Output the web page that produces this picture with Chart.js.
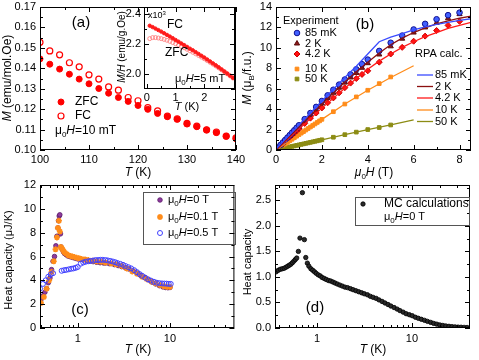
<!DOCTYPE html>
<html>
<head>
<meta charset="utf-8">
<script src="https://cdn.jsdelivr.net/npm/chart.js@4.4.0/dist/chart.umd.min.js"></script>
<style>
html, body { margin: 0; padding: 0; background: #fff; }
#wrap { position: relative; width: 479px; height: 360px; overflow: hidden; background: #fff; }
canvas { position: absolute; }
</style>
</head>
<body>
<div id="wrap">
  <canvas id="cA" width="250" height="180" style="left:0;top:0"></canvas>
  <canvas id="cIn" width="140" height="115" style="left:100px;top:0"></canvas>
  <canvas id="cB" width="239" height="180" style="left:240px;top:0"></canvas>
  <canvas id="cC" width="240" height="185" style="left:0;top:175px"></canvas>
  <canvas id="cD" width="239" height="185" style="left:240px;top:175px"></canvas>
</div>
<script>
// (a) M vs T at 10 mT
const aT = [100,102,104,106,108,110,112,114,116,118,120,122,124,126,128,130,132,134,136,138,140];
const aZFC = [0.1446,0.1420,0.1396,0.1371,0.1347,0.1324,0.1301,0.1278,0.1257,0.1238,0.1218,0.1199,0.1179,0.1163,0.1150,0.1127,0.1114,0.1098,0.1085,0.1067,0.1055];
const aFC = [0.1527,0.1485,0.1466,0.1427,0.1407,0.1368,0.1347,0.1309,0.1293,0.1257,0.1241,0.1207,0.1192,0.1166,0.1153,0.1130,0.1117,0.1099,0.1088,0.1068,0.1059];
const aTicksX = [100,110,120,130,140];
const aTicksY = [0.10,0.11,0.12,0.13,0.14,0.15,0.16,0.17];

// (a) inset, M/H at 5 mT (x10^3)
const inT = [0.1,0.2,0.3,0.4,0.5,0.6,0.7,0.8,0.9,1.0,1.1,1.2,1.3,1.4,1.5,1.6,1.7,1.8,1.9,2.0,2.1,2.2,2.3,2.4,2.5,2.6,2.7,2.8,2.9,3.0];
const inFC = [2.322,2.313,2.303,2.293,2.283,2.272,2.261,2.250,2.239,2.227,2.216,2.204,2.193,2.181,2.169,2.158,2.146,2.134,2.122,2.110,2.097,2.084,2.071,2.058,2.045,2.031,2.017,2.003,1.989,1.975];
const inZFC = [2.236,2.243,2.243,2.240,2.236,2.231,2.225,2.218,2.210,2.202,2.193,2.184,2.175,2.165,2.155,2.145,2.135,2.124,2.113,2.102,2.090,2.078,2.066,2.054,2.041,2.028,2.015,2.001,1.987,1.973];
const inTicksX = [0,1,2];
const inTicksY = [2.0,2.2,2.4];

// (b) M vs field
const bH1 = [0.1,0.2,0.3,0.4,0.5,0.6,0.7,0.8,0.9,1.0,1.25,1.5,1.75,2.0,2.25,2.5,2.75,3.0,3.25,3.5,3.75,4.0,4.5,5.0,5.5,6.0,6.5,7.0,7.5,8.0];
const b85mK = [0.25,0.5,0.74,0.98,1.22,1.46,1.7,1.94,2.18,2.42,3.02,3.62,4.22,4.8,5.35,5.9,6.4,6.9,7.4,7.9,8.4,8.85,9.7,10.5,11.2,11.8,12.35,12.8,13.2,13.45];
const b2K = [0.23,0.46,0.69,0.92,1.15,1.38,1.6,1.83,2.05,2.28,2.85,3.42,3.98,4.55,5.1,5.6,6.1,6.6,7.1,7.55,8.05,8.5,9.35,10.15,10.9,11.5,12.0,12.45,12.9,13.3];
const b42K = [0.21,0.42,0.63,0.84,1.05,1.26,1.46,1.67,1.87,2.08,2.6,3.12,3.62,4.12,4.62,5.1,5.6,6.1,6.55,7.0,7.4,7.75,8.6,9.4,10.05,10.65,11.15,11.7,12.2,12.6];
const bH2 = [0.1,0.2,0.3,0.4,0.5,0.6,0.7,0.8,0.9,1.0,1.1,1.2,1.3,1.4,1.5,1.6,1.7,1.8,1.9,2.0,2.5,3.0,3.5,4.0,4.5,5.0];
const b10K = [0.15,0.3,0.45,0.6,0.75,0.9,1.05,1.2,1.35,1.5,1.65,1.8,1.95,2.1,2.25,2.4,2.55,2.7,2.85,3.0,3.75,4.5,5.2,5.85,6.5,7.15];
const b50K = [0.05,0.1,0.15,0.2,0.25,0.3,0.35,0.4,0.45,0.5,0.55,0.6,0.65,0.7,0.75,0.8,0.85,0.9,0.95,1.0,1.25,1.5,1.75,2.0,2.2,2.45];
// RPA calc.
const rH1 = [0,1,2,3,3.5,4,4.5,5,5.5,6,6.5,7,7.5,8,8.5];
const r85mK = [0.1,2.45,4.8,7.1,8.2,9.4,10.6,11.05,11.4,11.75,12.05,12.3,12.5,12.7,12.85];
const r2K = [0,2.25,4.5,6.65,7.65,8.6,9.5,10.3,10.95,11.5,11.95,12.35,12.65,12.9,13.1];
const r42K = [0,2.05,4.1,6.05,7.0,7.9,8.7,9.4,10.05,10.6,11.1,11.5,11.9,12.2,12.5];
const rH2 = [0,1,2,3,4,5,6];
const r10K = [0,1.5,3.0,4.5,5.85,7.1,8.25];
const r50K = [0,0.5,1.0,1.5,2.0,2.45,2.95];
const bTicksX = [0,2,4,6,8];
const bTicksY = [0,2,4,6,8,10,12,14];

// (c) heat capacity, experiment
const c0T = [0.40,0.42,0.44,0.46,0.48,0.50,0.52,0.54,0.56,0.58,0.595,0.61,0.62,0.63,0.64,0.65,0.66,0.68,0.70,0.72,0.75,0.78,0.82,0.86,0.90,0.95,1.0,1.07,1.15,1.25,1.35,1.47,1.6,1.75,1.9,2.0,2.2,2.5,2.75,3.0,3.3,3.6,4.0,4.4,4.8,5.3,5.8,6.4,7.0,7.7,8.4,9.0,9.5,10.0];
const c0C = [2.4,2.7,3.0,3.3,3.8,4.2,4.9,5.6,6.0,6.9,7.7,8.4,9.0,9.4,9.5,7.9,6.8,6.6,6.4,6.25,6.15,6.05,6.0,5.95,5.9,5.85,5.8,5.75,5.72,5.68,5.62,5.57,5.52,5.48,5.46,5.45,5.4,5.32,5.24,5.15,5.05,4.95,4.78,4.6,4.42,4.25,4.05,3.85,3.7,3.55,3.45,3.4,3.38,3.4];
const c01T = [0.40,0.43,0.46,0.49,0.52,0.55,0.575,0.595,0.61,0.625,0.64,0.655,0.67,0.69,0.71,0.73,0.76,0.79,0.83,0.87,0.92,0.97,1.03,1.1,1.2,1.3,1.45,1.6,1.8,2.0,2.3,2.6,3.0,3.4,3.9,4.4,5.0,5.6,6.3,7.0,7.8,8.6,9.3,10.0];
const c01C = [2.1,2.6,3.3,4.0,4.7,5.6,6.6,7.6,8.4,9.0,8.1,6.8,6.7,6.55,6.4,6.3,6.2,6.1,6.05,6.0,5.95,5.9,5.85,5.8,5.75,5.7,5.65,5.6,5.55,5.5,5.42,5.35,5.2,5.0,4.75,4.55,4.3,4.1,3.9,3.75,3.6,3.5,3.45,3.45];
const c05T = [0.39,0.42,0.45,0.48,0.51,0.54,0.67,0.71,0.75,0.80,0.85,0.9,0.95,1.0,1.08,1.15,1.22,1.3,1.38,1.47,1.56,1.66,1.76,1.87,2.0,2.12,2.25,2.4,2.55,2.7,2.9,3.1,3.3,3.55,3.8,4.1,4.4,4.7,5.0,5.4,5.8,6.2,6.7,7.2,7.7,8.2,8.7,9.2,9.7,10.2];
const c05C = [3.3,3.7,4.0,4.3,4.5,4.6,4.8,4.85,4.88,4.92,4.97,5.0,5.05,5.12,5.4,5.5,5.56,5.6,5.63,5.66,5.7,5.7,5.72,5.72,5.7,5.67,5.63,5.58,5.52,5.45,5.38,5.3,5.2,5.1,5.0,4.85,4.68,4.52,4.38,4.22,4.08,3.98,3.88,3.8,3.76,3.74,3.73,3.72,3.7,3.7];
const cTicksX = [1,10];
const cTicksY = [0,2,4,6,8,10,12];

// (d) heat capacity, MC calculations
const dT = [0.37,0.39,0.41,0.43,0.45,0.47,0.49,0.51,0.53,0.55,0.57,0.59,0.61,0.635,0.66,0.70,0.735,0.76,0.79,0.82,0.86,0.90,0.94,0.98,1.03,1.08,1.13,1.19,1.25,1.32,1.39,1.47,1.55,1.64,1.74,1.85,1.97,2.1,2.25,2.4,2.57,2.75,2.95,3.15,3.4,3.65,3.9,4.2,4.5,4.85,5.2,5.6,6.0,6.5,7.0,7.5,8.1,8.7,9.4,10.1,10.9,11.7,12.6,13.6,14.6,15.8,17,18.3,19.7,21.2,22.8,24.6,26.5,28.5,30.7,33,35.5,38.2];
const dC = [1.10,1.13,1.15,1.16,1.17,1.19,1.21,1.23,1.25,1.28,1.31,1.34,1.37,1.50,1.76,2.65,1.73,1.38,1.27,1.21,1.16,1.13,1.10,1.07,1.04,1.02,0.99,0.97,0.95,0.93,0.92,0.90,0.88,0.86,0.84,0.82,0.80,0.79,0.77,0.75,0.73,0.71,0.69,0.67,0.65,0.62,0.60,0.58,0.55,0.52,0.49,0.46,0.43,0.40,0.37,0.34,0.31,0.28,0.26,0.24,0.21,0.19,0.17,0.15,0.13,0.11,0.09,0.075,0.06,0.05,0.04,0.033,0.027,0.022,0.018,0.015,0.012,0.01];
const dTicksX = [1,10];
const dTicksY = [0,0.5,1.0,1.5,2.0,2.5];

const FONT = '"Liberation Sans", Arial, sans-serif';
Chart.defaults.font.family = FONT;
Chart.defaults.color = '#000';

function pts(xs, ys) { return xs.map((v, i) => ({ x: v, y: ys[i] })); }

function markers(xs, ys, st, r, fill, stroke, bw, order) {
  return { data: pts(xs, ys), showLine: false, pointStyle: st, pointRadius: r,
    pointBackgroundColor: fill, pointBorderColor: stroke, pointBorderWidth: bw, order: order || 0 };
}

function curve(xs, ys, color, order) {
  return { data: pts(xs, ys), showLine: true, pointRadius: 0, borderColor: color, borderWidth: 1.3, order: order || 0 };
}

// mixed text: parts = [[text, style]], style: i italic, s sub, p sup
function rich(ctx, parts, x, y, size, rot, align) {
  const fontOf = st => (st.includes('i') ? 'italic ' : '') +
    ((st.includes('s') || st.includes('p')) ? Math.round(size * 0.7) : size) + 'px ' + FONT;
  let w = 0;
  parts.forEach(([t, st]) => { ctx.font = fontOf(st); w += ctx.measureText(t).width; });
  ctx.save();
  ctx.translate(x, y);
  if (rot) ctx.rotate(-Math.PI / 2);
  ctx.fillStyle = '#000';
  ctx.textBaseline = 'middle';
  ctx.textAlign = 'left';
  let cx = align === 'left' ? 0 : -w / 2;
  parts.forEach(([t, st]) => {
    ctx.font = fontOf(st);
    const dy = st.includes('s') ? size * 0.3 : st.includes('p') ? -size * 0.35 : 0;
    ctx.fillText(t, cx, dy);
    cx += ctx.measureText(t).width;
  });
  ctx.restore();
}

// box, inward ticks on all sides, legends and labels
const framePlugin = {
  id: 'frame',
  beforeDraw(chart, args, o) {
    if (!o.white) return;
    const a = chart.chartArea, ctx = chart.ctx;
    ctx.save();
    ctx.fillStyle = '#fff';
    ctx.fillRect(a.left, a.top, a.width, a.height);
    ctx.restore();
  },
  afterDraw(chart, args, o) {
    const ctx = chart.ctx, a = chart.chartArea, sx = chart.scales.x, sy = chart.scales.y;
    ctx.save();
    ctx.strokeStyle = '#000';
    ctx.lineWidth = 1;
    ctx.strokeRect(a.left + 0.5, a.top + 0.5, a.width - 1, a.height - 1);
    const tick = (scale, v, len, horiz) => {
      const p = Math.round(scale.getPixelForValue(v)) + 0.5;
      ctx.beginPath();
      if (horiz) {
        ctx.moveTo(p, a.bottom); ctx.lineTo(p, a.bottom - len);
        ctx.moveTo(p, a.top); ctx.lineTo(p, a.top + len);
      } else {
        ctx.moveTo(a.left, p); ctx.lineTo(a.left + len, p);
        ctx.moveTo(a.right, p); ctx.lineTo(a.right - len, p);
      }
      ctx.stroke();
    };
    sx.ticks.forEach(t => tick(sx, t.value, 5, true));
    (o.minorX || []).forEach(v => tick(sx, v, 3, true));
    sy.ticks.forEach(t => tick(sy, t.value, 5, false));
    (o.minorY || []).forEach(v => tick(sy, v, 3, false));
    (o.boxes || []).forEach(b => {
      ctx.strokeStyle = '#555';
      ctx.strokeRect(b[0] + 0.5, b[1] + 0.5, b[2], b[3]);
    });
    (o.legend || []).forEach(e => {
      const ds = chart.data.datasets[e.ds];
      ctx.save();
      if (ds.showLine) {
        ctx.strokeStyle = ds.borderColor;
        ctx.lineWidth = ds.borderWidth;
        ctx.beginPath(); ctx.moveTo(e.x - 8, e.y); ctx.lineTo(e.x + 8, e.y); ctx.stroke();
      } else {
        ctx.fillStyle = ds.pointBackgroundColor;
        ctx.strokeStyle = ds.pointBorderColor;
        ctx.lineWidth = ds.pointBorderWidth;
        Chart.helpers.drawPoint(ctx, { pointStyle: ds.pointStyle, radius: ds.pointRadius, rotation: 0, borderWidth: ds.pointBorderWidth }, e.x, e.y);
      }
      ctx.restore();
    });
    (o.texts || []).forEach(t => rich(ctx, t.parts, t.x, t.y, t.size, t.rot, t.align));
    ctx.restore();
  }
};

function axis(o) {
  return {
    type: o.type || 'linear', min: o.min, max: o.max,
    grid: { display: false, drawTicks: false }, border: { display: false },
    ticks: { font: { size: o.fs || 11 }, color: '#000', padding: o.pad, autoSkip: false, maxRotation: 0, minRotation: 0, callback: o.fmt },
    afterBuildTicks: s => { s.ticks = o.ticks.map(v => ({ value: v })); },
    afterFit: s => {
      if (o.w) s.width = o.w;
      if (o.h) s.height = o.h;
      s.paddingLeft = s.paddingRight = s.paddingTop = s.paddingBottom = 0;
    }
  };
}

function plot(id, datasets, x, y, pad, frame) {
  return new Chart(document.getElementById(id), {
    type: 'scatter',
    data: { datasets },
    options: {
      responsive: false, animation: false, devicePixelRatio: 1,
      layout: { padding: pad },
      plugins: { legend: { display: false }, tooltip: { enabled: false }, frame },
      scales: { x: axis(x), y: axis(y) }
    },
    plugins: [framePlugin]
  });
}

const mu0H = rest => [['μ', ''], ['0', 's'], ['H', 'i'], [rest, '']];
const TK = [['T', 'i'], [' (K)', '']];

// (a)
plot('cA', [
  markers(aT, aZFC, 'circle', 3, '#ff0000', '#ff0000', 1),
  markers(aT, aFC, 'circle', 3, 'rgba(255,255,255,0)', '#ff0000', 1.2)
],
{ min: 100, max: 140, ticks: aTicksX, h: 30, pad: 3, fmt: v => String(v) },
{ min: 0.10, max: 0.17, ticks: aTicksY, w: 40, pad: 4, fmt: v => v.toFixed(2) },
{ left: 0, right: 14, top: 7, bottom: 0 },
{
  minorX: [105, 115, 125, 135],
  minorY: [0.105, 0.115, 0.125, 0.135, 0.145, 0.155, 0.165],
  legend: [{ ds: 0, x: 61, y: 102 }, { ds: 1, x: 61, y: 116 }],
  texts: [
    { parts: [['(a)', '']], x: 81, y: 23, size: 15 },
    { parts: [['ZFC', '']], x: 75, y: 102, size: 12, align: 'left' },
    { parts: [['FC', '']], x: 75, y: 116, size: 12, align: 'left' },
    { parts: mu0H('=10 mT'), x: 55, y: 131, size: 12, align: 'left' },
    { parts: TK, x: 138, y: 173, size: 12 },
    { parts: [['M', 'i'], [' (emu/mol.Oe)', '']], x: 8, y: 78, size: 12, rot: true }
  ]
});

// (a) inset
plot('cIn', [
  markers(inT, inFC, 'circle', 1.7, '#ff1a1a', '#ff1a1a', 1, 0),
  markers(inT, inZFC, 'circle', 2, 'rgba(255,255,255,0)', '#ff8080', 0.9, 1)
],
{ min: -0.1, max: 3.07, ticks: inTicksX, h: 26, pad: 2, fs: 11, fmt: v => String(v) },
{ min: 1.9, max: 2.447, ticks: inTicksY, w: 44, pad: 3, fs: 11, fmt: v => v.toFixed(1) },
{ left: 0, right: 4, top: 7, bottom: 0 },
{
  white: true,
  minorX: [0.5, 1.5, 2.5],
  minorY: [2.1, 2.3],
  texts: [
    { parts: [['x10', ''], ['3', 'p']], x: 48, y: 16, size: 9, align: 'left' },
    { parts: [['FC', '']], x: 67, y: 25, size: 12, align: 'left' },
    { parts: [['ZFC', '']], x: 65, y: 53, size: 12, align: 'left' },
    { parts: mu0H('=5 mT'), x: 75, y: 79, size: 11, align: 'left' },
    { parts: TK, x: 87, y: 107, size: 11 },
    { parts: [['M/H', 'i'], [' (emu/g.Oe)', '']], x: 22, y: 47, size: 10, rot: true }
  ]
});

// (b)
plot('cB', [
  markers(bH1, b85mK, 'circle', 2.8, '#4060ff', '#101090', 1, 1),
  markers(bH1, b2K, 'triangle', 3, '#8b1a1a', '#5a0a0a', 1, 1),
  markers(bH1, b42K, 'rectRot', 3, '#ff1010', '#d00000', 1, 1),
  markers(bH2, b10K, 'rect', 2.6, '#ff8c1a', '#ff8c1a', 1, 1),
  markers(bH2, b50K, 'rect', 2.6, '#8c8c14', '#8c8c14', 1, 1),
  curve(rH1, r85mK, '#3a4bff'),
  curve(rH1, r2K, '#8b1010'),
  curve(rH1, r42K, '#ff1a1a'),
  curve(rH2, r10K, '#ff8c1a'),
  curve(rH2, r50K, '#8c8c14')
],
{ min: 0, max: 8.5, ticks: bTicksX, h: 30, pad: 3, fmt: v => String(v) },
{ min: 0, max: 14, ticks: bTicksY, w: 36, pad: 4, fmt: v => String(v) },
{ left: 0, right: 8, top: 7, bottom: 0 },
{
  minorX: [1, 3, 5, 7],
  minorY: [1, 3, 5, 7, 9, 11, 13],
  legend: [
    { ds: 0, x: 57, y: 33 }, { ds: 1, x: 57, y: 43.5 }, { ds: 2, x: 57, y: 54 },
    { ds: 3, x: 57, y: 69 }, { ds: 4, x: 57, y: 79 },
    { ds: 5, x: 185, y: 75 }, { ds: 6, x: 185, y: 86.5 }, { ds: 7, x: 185, y: 98 },
    { ds: 8, x: 185, y: 110 }, { ds: 9, x: 185, y: 121.5 }
  ],
  texts: [
    { parts: [['(b)', '']], x: 125, y: 25, size: 15 },
    { parts: [['Experiment', '']], x: 43, y: 21, size: 11, align: 'left' },
    { parts: [['85 mK', '']], x: 65, y: 33, size: 11, align: 'left' },
    { parts: [['2 K', '']], x: 65, y: 43.5, size: 11, align: 'left' },
    { parts: [['4.2 K', '']], x: 65, y: 54, size: 11, align: 'left' },
    { parts: [['10 K', '']], x: 65, y: 69, size: 11, align: 'left' },
    { parts: [['50 K', '']], x: 65, y: 79, size: 11, align: 'left' },
    { parts: [['RPA calc.', '']], x: 175, y: 54, size: 11, align: 'left' },
    { parts: [['85 mK', '']], x: 195, y: 75, size: 11, align: 'left' },
    { parts: [['2 K', '']], x: 195, y: 86.5, size: 11, align: 'left' },
    { parts: [['4.2 K', '']], x: 195, y: 98, size: 11, align: 'left' },
    { parts: [['10 K', '']], x: 195, y: 110, size: 11, align: 'left' },
    { parts: [['50 K', '']], x: 195, y: 121.5, size: 11, align: 'left' },
    { parts: [['μ', 'i'], ['0', 's'], ['H', 'i'], [' (T)', '']], x: 134, y: 173, size: 12 },
    { parts: [['M', 'i'], [' (μ', ''], ['B', 's'], ['/f.u.)', '']], x: 8, y: 78, size: 12, rot: true }
  ]
});

// (c)
plot('cC', [
  markers(c05T, c05C, 'circle', 2.5, 'rgba(255,255,255,0)', '#4040ff', 1, 0),
  markers(c01T, c01C, 'star', 3, '#ff8c1a', '#ff8c1a', 1.6, 1),
  markers(c0T, c0C, 'circle', 2.3, '#8e3b9e', '#5a1a6a', 0.8, 2)
],
{ type: 'logarithmic', min: 0.39, max: 50, ticks: cTicksX, h: 32, pad: 4, fmt: v => String(v) },
{ min: 0, max: 12, ticks: cTicksY, w: 40, pad: 4, fmt: v => String(v) },
{ left: 0, right: 4, top: 10, bottom: 0 },
{
  minorX: [0.4, 0.5, 0.6, 0.7, 0.8, 0.9, 2, 3, 4, 5, 6, 7, 8, 9, 20, 30, 40],
  minorY: [1, 3, 5, 7, 9, 11],
  boxes: [[143, 17, 92, 52]],
  legend: [{ ds: 2, x: 160, y: 25 }, { ds: 1, x: 160, y: 42 }, { ds: 0, x: 160, y: 58 }],
  texts: [
    { parts: [['(c)', '']], x: 80, y: 135, size: 15 },
    { parts: mu0H('=0 T'), x: 168, y: 25, size: 11, align: 'left' },
    { parts: mu0H('=0.1 T'), x: 168, y: 42, size: 11, align: 'left' },
    { parts: mu0H('=0.5 T'), x: 168, y: 58, size: 11, align: 'left' },
    { parts: TK, x: 138, y: 175, size: 12 },
    { parts: [['Heat capacity (μJ/K)', '']], x: 9, y: 85, size: 11, rot: true }
  ]
});

// (d)
plot('cD', [
  markers(dT, dC, 'circle', 2.2, '#2a2a2a', '#000', 0.8)
],
{ type: 'logarithmic', min: 0.36, max: 41, ticks: dTicksX, h: 32, pad: 4, fmt: v => String(v) },
{ min: 0, max: 2.8, ticks: dTicksY, w: 35, pad: 4, fmt: v => v.toFixed(1) },
{ left: 0, right: 9, top: 10, bottom: 0 },
{
  minorX: [0.4, 0.5, 0.6, 0.7, 0.8, 0.9, 2, 3, 4, 5, 6, 7, 8, 9, 20, 30, 40],
  minorY: [0.25, 0.75, 1.25, 1.75, 2.25, 2.75],
  boxes: [[115, 22, 114, 28]],
  legend: [{ ds: 0, x: 123, y: 29 }],
  texts: [
    { parts: [['(d)', '']], x: 75, y: 133, size: 15 },
    { parts: [['MC calculations', '']], x: 144, y: 29, size: 12, align: 'left' },
    { parts: mu0H('=0 T'), x: 144, y: 42, size: 11, align: 'left' },
    { parts: TK, x: 133, y: 175, size: 12 },
    { parts: [['Heat capacity', '']], x: 8, y: 87, size: 11, rot: true }
  ]
});
</script>
</body>
</html>
